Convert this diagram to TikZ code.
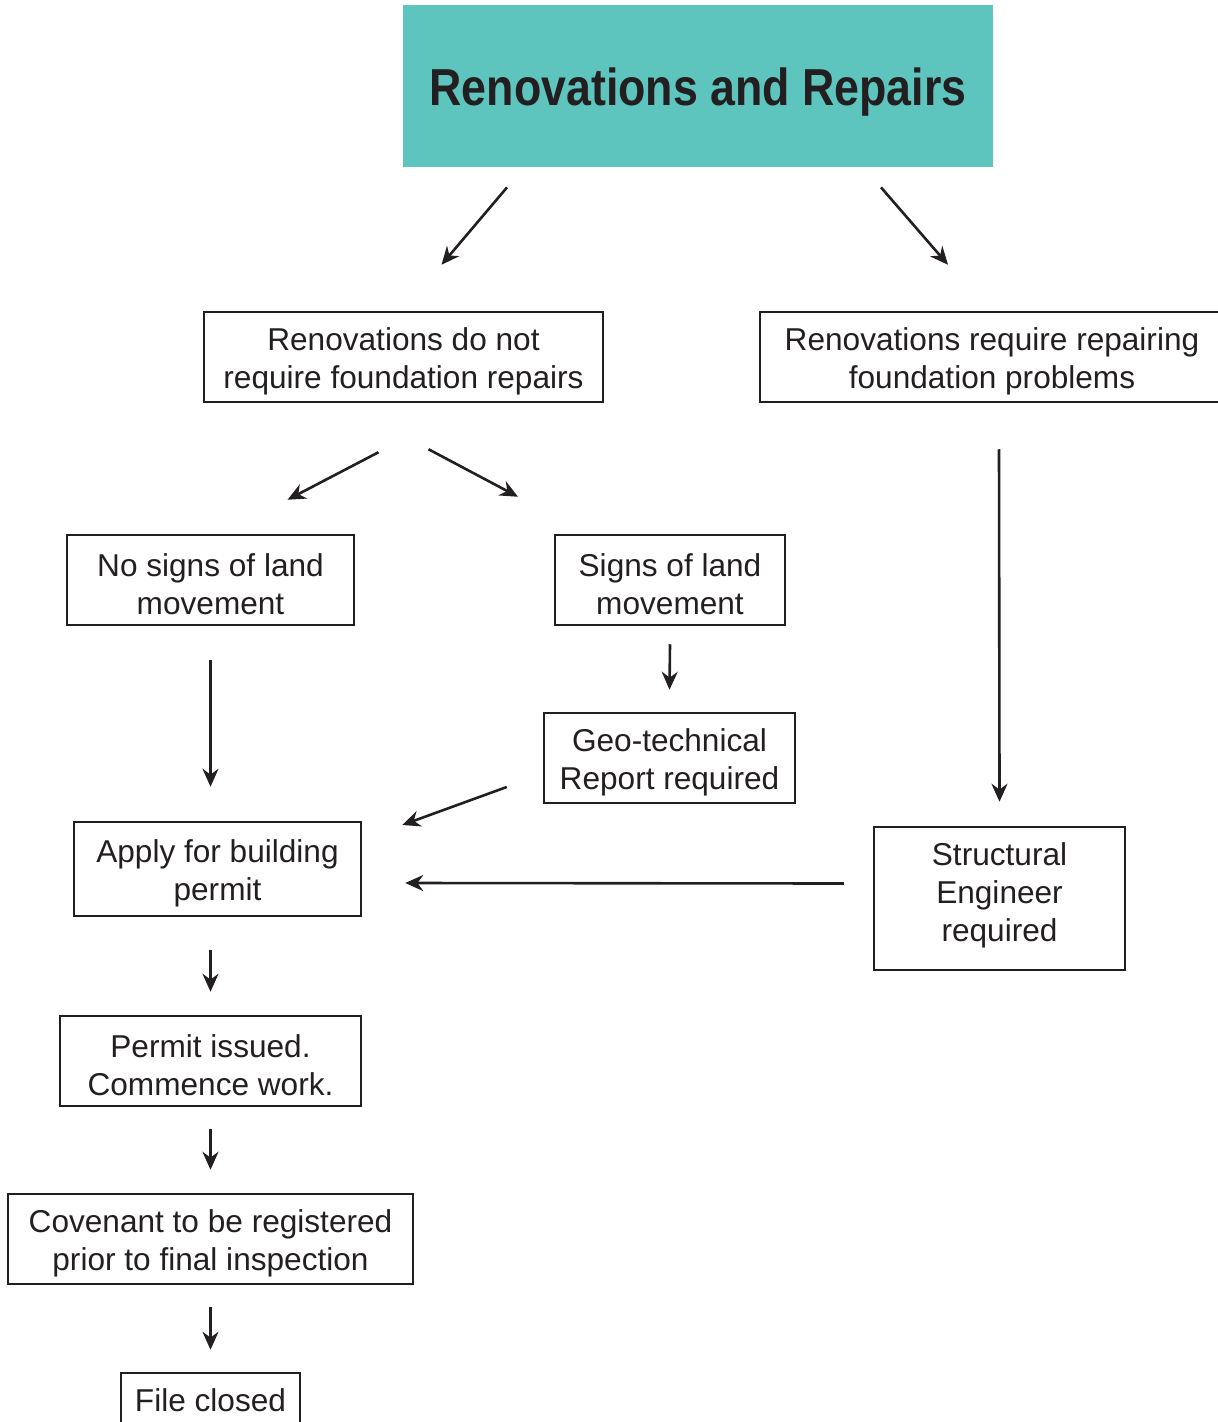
\documentclass[tikz,border=0pt]{standalone}
\usepackage{fontspec}
\setmainfont{Liberation Sans}
\newfontfamily\titlefont[FakeStretch=0.86]{Liberation Sans}
\usetikzlibrary{arrows.meta,calc}
\definecolor{header}{HTML}{5DC5BE}
\definecolor{ink}{HTML}{231F20}
\newcommand{\lift}{\rule{0pt}{15.5pt}}

\begin{document}
\begin{tikzpicture}[x=0.5pt, y=-0.5pt,
    box/.style={draw=ink, line width=1.25pt, align=center, inner sep=0pt,
        minimum height=45pt, text=ink, font=\fontsize{15.8}{19}\selectfont},
    flow/.style={-{Stealth[length=9pt,width=8pt]}, line width=1.3pt, ink}]

    % Fix the page size
    \useasboundingbox (0,0) rectangle (1217,1422);

    % Draw the title block
    \node[fill=header, minimum width=295pt, minimum height=81pt, text=ink,
        font=\titlefont\bfseries\fontsize{26}{30}\selectfont] (title) at (698,86) {\rule{0pt}{25pt}Renovations and Repairs};

    % Draw the two kinds of renovation
    \node[box, minimum width=199.5pt] (nofound) at (403.5,357) {\lift Renovations do not\\require foundation repairs};
    \node[box, minimum width=232pt] (repfound) at (992,357) {\lift Renovations require repairing\\foundation problems};

    % Draw the land movement boxes
    \node[box, minimum width=143.5pt] (nosigns) at (210.5,580) {\lift No signs of land\\movement};
    \node[box, minimum width=115pt] (signs) at (670,580) {\lift Signs of land\\movement};
    \node[box, minimum width=125.5pt] (geo) at (669.5,758) {\lift Geo-technical\\Report required};

    % Draw the permit steps
    \node[box, minimum width=143.5pt, minimum height=47pt] (apply) at (217.5,869) {\lift Apply for building\\permit};
    \node[box, minimum width=125.5pt, minimum height=71.5pt] (struct) at (999.5,898.5) {Structural\\Engineer\\required\rule[-6.3pt]{0pt}{6.3pt}};
    \node[box, minimum width=150.5pt] (permit) at (210.5,1061) {\lift Permit issued.\\Commence work.};
    \node[box, minimum width=202.5pt] (covenant) at (210.5,1239) {\lift Covenant to be registered\\prior to final inspection};
    \node[box, minimum width=89.5pt, minimum height=27pt] (closed) at (210.5,1400) {File closed};

    % Draw the arrows from the title
    \draw[flow] ($(title.south)+(-191,20)$) -- ($(nofound.north)+(38,-46)$);
    \draw[flow] ($(title.south)+(183,20)$) -- ($(repfound.north)+(-44,-46)$);

    % Draw the arrows to the land movement boxes
    \draw[flow] ($(nofound.south)+(-25,49)$) -- ($(nosigns.north)+(77,-34)$);
    \draw[flow] ($(nofound.south)+(25,46)$) -- ($(signs.north)+(-152,-37)$);
    \draw[flow] ($(signs.south)+(0,18)$) -- ($(geo.north)+(0,-22)$);

    % Draw the arrows into the building permit
    \draw[flow] ($(nosigns.south)+(0,34)$) -- ($(apply.north)+(-7,-34)$);
    \draw[flow] ($(geo.west)+(-36,29)$) -- ($(apply.east)+(40,-44)$);
    \draw[flow] ($(repfound.south)+(7,46)$) -- ($(struct.north)+(0,-24)$);
    \draw[flow] ($(struct.west)+(-29,-15)$) -- ($(apply.east)+(43,14)$);

    % Draw the arrows down to the end
    \draw[flow] ($(apply.south)+(-7,33)$) -- ($(permit.north)+(0,-23)$);
    \draw[flow] ($(permit.south)+(0,22)$) -- ($(covenant.north)+(0,-23)$);
    \draw[flow] ($(covenant.south)+(0,22)$) -- ($(closed.north)+(0,-22)$);

\end{tikzpicture}
\end{document}
